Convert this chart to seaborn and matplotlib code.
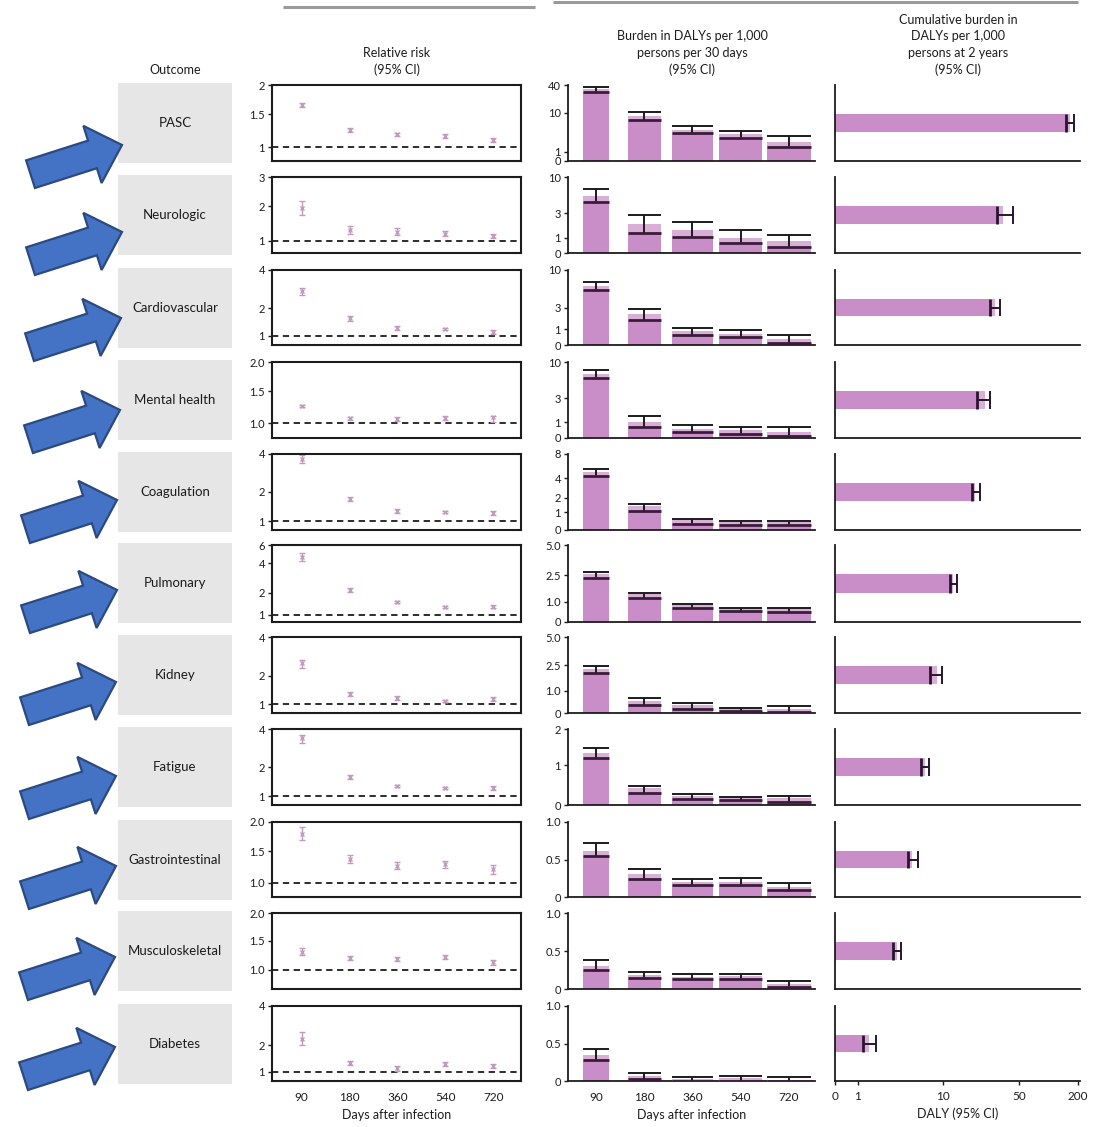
import numpy as np
import pandas as pd
import matplotlib
matplotlib.use("Agg")
import matplotlib.pyplot as plt
import seaborn as sns
from matplotlib.patches import Rectangle, FancyArrow

# ---------------------------------------------------------------- data
outcomes = ["PASC", "Neurologic", "Cardiovascular", "Mental health", "Coagulation",
            "Pulmonary", "Kidney", "Fatigue", "Gastrointestinal", "Musculoskeletal",
            "Diabetes"]
days = ["90", "180", "360", "540", "720"]

# relative risk (95% CI) per period
rr_est = [[1.64, 1.23, 1.17, 1.145, 1.09],
          [1.92, 1.24, 1.20, 1.15, 1.10],
          [2.73, 1.56, 1.22, 1.19, 1.10],
          [1.24, 1.065, 1.05, 1.065, 1.08],
          [3.65, 1.69, 1.27, 1.24, 1.21],
          [4.58, 2.14, 1.51, 1.29, 1.29],
          [2.52, 1.28, 1.16, 1.08, 1.13],
          [3.40, 1.57, 1.27, 1.21, 1.21],
          [1.78, 1.36, 1.24, 1.27, 1.19],
          [1.29, 1.18, 1.17, 1.20, 1.12],
          [2.22, 1.26, 1.11, 1.23, 1.17]]
rr_lo = [[1.61, 1.20, 1.145, 1.12, 1.065],
         [1.68, 1.15, 1.12, 1.10, 1.06],
         [2.53, 1.45, 1.17, 1.15, 1.06],
         [1.22, 1.045, 1.02, 1.04, 1.01],
         [3.40, 1.62, 1.22, 1.20, 1.15],
         [4.19, 2.05, 1.45, 1.25, 1.23],
         [2.30, 1.22, 1.11, 1.05, 1.08],
         [3.10, 1.50, 1.23, 1.17, 1.15],
         [1.67, 1.29, 1.19, 1.21, 1.12],
         [1.23, 1.15, 1.14, 1.17, 1.07],
         [2.00, 1.19, 1.03, 1.16, 1.10]]
rr_hi = [[1.67, 1.26, 1.195, 1.17, 1.115],
         [2.15, 1.35, 1.29, 1.21, 1.14],
         [2.88, 1.64, 1.27, 1.23, 1.15],
         [1.26, 1.085, 1.08, 1.09, 1.10],
         [3.93, 1.76, 1.32, 1.28, 1.27],
         [5.01, 2.23, 1.57, 1.33, 1.35],
         [2.66, 1.34, 1.21, 1.11, 1.18],
         [3.58, 1.64, 1.31, 1.25, 1.27],
         [1.90, 1.43, 1.30, 1.33, 1.26],
         [1.36, 1.21, 1.20, 1.23, 1.15],
         [2.52, 1.33, 1.18, 1.30, 1.24]]

# burden in DALYs per 1,000 persons per 30 days (95% CI)
burden_est = [[33, 8.3, 3.7, 2.8, 1.8],
              [5.4, 1.9, 1.44, 1.0, 0.8],
              [6.0, 2.2, 0.87, 0.73, 0.36],
              [6.6, 1.0, 0.56, 0.50, 0.39],
              [4.86, 1.34, 0.56, 0.46, 0.44],
              [2.55, 1.28, 0.82, 0.63, 0.62],
              [2.15, 0.53, 0.35, 0.17, 0.17],
              [1.33, 0.42, 0.23, 0.18, 0.17],
              [0.62, 0.31, 0.20, 0.20, 0.14],
              [0.30, 0.19, 0.16, 0.17, 0.06],
              [0.35, 0.07, 0.03, 0.04, 0.02]]
burden_lo = [[28, 6.5, 3.1, 2.3, 1.3],
             [4.4, 1.24, 1.06, 0.65, 0.42],
             [5.3, 1.65, 0.62, 0.52, 0.10],
             [5.8, 0.70, 0.36, 0.25, 0.12],
             [4.3, 1.05, 0.37, 0.28, 0.28],
             [2.26, 1.12, 0.68, 0.52, 0.48],
             [1.87, 0.35, 0.20, 0.10, 0.06],
             [1.19, 0.29, 0.15, 0.12, 0.08],
             [0.55, 0.245, 0.16, 0.16, 0.10],
             [0.25, 0.15, 0.13, 0.13, 0.02],
             [0.28, 0.03, 0.00, 0.00, 0.00]]
burden_hi = [[37, 10.3, 4.6, 3.4, 2.5],
             [6.7, 2.74, 2.0, 1.4, 1.15],
             [6.9, 2.8, 1.07, 0.94, 0.62],
             [7.6, 1.33, 0.81, 0.70, 0.70],
             [5.2, 1.5, 0.65, 0.50, 0.52],
             [2.71, 1.36, 0.87, 0.68, 0.68],
             [2.41, 0.68, 0.43, 0.22, 0.29],
             [1.46, 0.48, 0.28, 0.21, 0.23],
             [0.72, 0.375, 0.245, 0.25, 0.19],
             [0.38, 0.23, 0.20, 0.20, 0.11],
             [0.43, 0.11, 0.06, 0.07, 0.06]]

# cumulative burden in DALYs per 1,000 persons at 2 years (95% CI)
cum_est = [166, 35.6, 30, 24.3, 19.7, 12.4, 8.5, 6.15, 4.3, 2.9, 1.36]
cum_lo = [151, 31.4, 27, 20.5, 18.5, 11.6, 7.0, 5.5, 3.9, 2.6, 1.15]
cum_hi = [182, 44, 33.4, 27, 21.9, 13.4, 9.7, 6.85, 5.1, 3.2, 1.64]

# axis ticks
rr_ticks = [[1, 1.5, 2], [1, 2, 3], [1, 2, 4], [1, 1.5, 2], [1, 2, 4], [1, 2, 4, 6],
            [1, 2, 4], [1, 2, 4], [1, 1.5, 2], [1, 1.5, 2], [1, 2, 4]]
rr_ticklabels = [["1", "1.5", "2"], ["1", "2", "3"], ["1", "2", "4"], ["1.0", "1.5", "2.0"],
                 ["1", "2", "4"], ["1", "2", "4", "6"], ["1", "2", "4"], ["1", "2", "4"],
                 ["1.0", "1.5", "2.0"], ["1.0", "1.5", "2.0"], ["1", "2", "4"]]
burden_ticks = [[0, 1, 10, 40], [0, 1, 3, 10], [0, 1, 3, 10], [0, 1, 3, 10], [0, 1, 2, 4, 8],
                [0, 1, 2.5, 5], [0, 1, 2.5, 5], [0, 1, 2], [0, 0.5, 1], [0, 0.5, 1], [0, 0.5, 1]]
burden_ticklabels = [["0", "1", "10", "40"], ["0", "1", "3", "10"], ["0", "1", "3", "10"],
                     ["0", "1", "3", "10"], ["0", "1", "2", "4", "8"], ["0", "1.0", "2.5", "5.0"],
                     ["0", "1.0", "2.5", "5.0"], ["0", "1", "2"], ["0", "0.5", "1.0"],
                     ["0", "0.5", "1.0"], ["0", "0.5", "1.0"]]
cum_ticks = [0, 1, 10, 50, 200]
cum_ticklabels = ["0", "1", "10", "50", "200"]

# ---------------------------------------------------------------- axis geometry
# lower limit of each relative-risk panel and where each tick sits (fraction of height)
rr_floor = [0.84, 0.79, 0.80, 0.83, 0.81, 0.80, 0.80, 0.80, 0.84, 0.77, 0.80]
rr_pos = [[0.184, 0.618, 1], [0.158, 0.618, 1], [0.12, 0.493, 1], [0.197, 0.618, 1],
          [0.118, 0.5, 1], [0.091, 0.377, 0.766, 1], [0.118, 0.487, 1], [0.118, 0.5, 1],
          [0.187, 0.613, 1], [0.25, 0.632, 1], [0.12, 0.48, 1]]
burden_pos = [[0, 0.122, 0.635, 1], [0, 0.2, 0.52, 1], [0, 0.208, 0.494, 1], [0, 0.21, 0.526, 1],
              [0, 0.231, 0.423, 0.679, 1], [0, 0.266, 0.608, 1], [0, 0.295, 0.628, 1],
              [0, 0.526, 1], [0, 0.5, 1], [0, 0.5, 1], [0, 0.5, 1]]
burden_mode = ["sym"] * 7 + ["lin"] * 4
cum_pos = [0, 0.0927, 0.441, 0.751, 0.992]

W, H = 1094, 1127
row_top = [85, 177, 270, 362, 454, 545, 637, 729, 822, 913, 1006]
row_bot = [161, 253, 345, 438, 530, 622, 713, 805, 897, 989, 1081]
bar_widths = [0.52, 0.69, 0.85, 0.9, 0.9]

BAR = "#c98dc8"
RRC = "#c29abd"
INK = "#1c1c1c"


def _interp(x, xp, fp):
    x = np.asarray(x, dtype=float)
    y = np.interp(x, xp, fp)
    s0 = (fp[1] - fp[0]) / (xp[1] - xp[0])
    s1 = (fp[-1] - fp[-2]) / (xp[-1] - xp[-2])
    y = np.where(x < xp[0], fp[0] + (x - xp[0]) * s0, y)
    y = np.where(x > xp[-1], fp[-1] + (x - xp[-1]) * s1, y)
    return y


def knot_scale(vals, pos, mode):
    """Piecewise scale that puts each knot value at the given axis fraction."""
    vals = np.asarray(vals, dtype=float)
    pos = np.asarray(pos, dtype=float)
    t1 = vals[vals > 0][0]

    def g(v):
        v = np.asarray(v, dtype=float)
        if mode == "lin":
            return v
        if mode == "log":
            return np.log10(np.clip(v, 1e-9, None))
        return np.where(v < t1, v / t1, 1 + np.log10(np.clip(v, t1, None) / t1))

    def ginv(u):
        u = np.asarray(u, dtype=float)
        if mode == "lin":
            return u
        if mode == "log":
            return 10 ** np.clip(u, -9, 9)
        return np.where(u < 1, u * t1, t1 * 10 ** (np.clip(u, 1, 12) - 1))

    G = g(vals)
    fwd = lambda v: _interp(g(v), G, pos)
    inv = lambda f: ginv(_interp(f, pos, G))
    return fwd, inv


sns.set_theme(style="white")
plt.rcParams["font.family"] = ["Lato", "DejaVu Sans"]
plt.rcParams["text.color"] = INK
plt.rcParams["axes.labelcolor"] = INK
plt.rcParams["xtick.color"] = INK
plt.rcParams["ytick.color"] = INK

fig = plt.figure(figsize=(W / 100, H / 100), dpi=100)


def add_ax(x0, x1, top, bot):
    return fig.add_axes([x0 / W, 1 - bot / H, (x1 - x0) / W, (bot - top) / H])


xs = np.arange(len(days))
last = len(outcomes) - 1

for i, name in enumerate(outcomes):
    top, bot = row_top[i], row_bot[i]

    # ---- relative risk panel
    ax = add_ax(272, 521, top, bot)
    df = pd.DataFrame({"day": days, "rr": rr_est[i]})
    sns.pointplot(data=df, x="day", y="rr", order=days, color=RRC, linestyle="none",
                  marker="x", markersize=3, markeredgewidth=1.0, errorbar=None, ax=ax)
    est = np.array(rr_est[i])
    ax.errorbar(xs, est, yerr=[est - np.array(rr_lo[i]), np.array(rr_hi[i]) - est],
                fmt="none", ecolor=RRC, elinewidth=1.0, capsize=2.2, capthick=1.0)
    ax.axhline(1, color=INK, lw=1.3, ls=(0, (3.5, 2.5)), zorder=1)
    fwd, inv = knot_scale([rr_floor[i]] + rr_ticks[i], [0] + rr_pos[i], "log")
    ax.set_yscale("function", functions=(fwd, inv))
    ax.set_ylim(rr_floor[i], float(inv(1.0)))
    ax.set_yticks(rr_ticks[i])
    ax.set_yticklabels(rr_ticklabels[i])
    ax.minorticks_off()
    ax.set_xlim(-0.62, 4.58)
    ax.set_xlabel("")
    ax.set_ylabel("")
    for s in ax.spines.values():
        s.set_visible(True)
        s.set_linewidth(1.5)
        s.set_color(INK)
    ax.tick_params(axis="y", length=3, width=1, labelsize=8, pad=2, left=True)
    ax.tick_params(axis="x", length=0, labelsize=8.5, pad=8)
    if i != last:
        ax.set_xticklabels([])
    else:
        ax.set_xlabel("Days after infection", fontsize=9, labelpad=4)

    # ---- burden per 30 days panel
    ax = add_ax(568, 815, top, bot)
    dfb = pd.DataFrame({"day": days, "burden": burden_est[i]})
    sns.barplot(data=dfb, x="day", y="burden", order=days, color=BAR, saturation=1,
                errorbar=None, edgecolor="none", ax=ax)
    for p, w, cx in zip(ax.patches, bar_widths, xs):
        p.set_x(cx - w / 2)
        p.set_width(w)
    lo = np.array(burden_lo[i])
    hi = np.array(burden_hi[i])
    bw = np.array(bar_widths)
    be = np.array(burden_est[i])
    # lighter band between the lower bound and the estimate
    ax.bar(xs, np.clip(be - lo, 0, None), bottom=lo, width=bw, color="white", alpha=0.3,
           linewidth=0, zorder=3)
    ax.vlines(xs, lo, hi, color=INK, lw=1.4, zorder=4)
    ax.hlines(hi, xs - bw / 2, xs + bw / 2, color=INK, lw=1.4, zorder=4)
    ax.hlines(lo, xs - bw / 2, xs + bw / 2, color="#3a1c3a", lw=2.0, zorder=4)
    fwd, inv = knot_scale(burden_ticks[i], burden_pos[i], burden_mode[i])
    ax.set_yscale("function", functions=(fwd, inv))
    ax.set_ylim(0, burden_ticks[i][-1])
    ax.set_yticks(burden_ticks[i])
    ax.set_yticklabels(burden_ticklabels[i])
    ax.minorticks_off()
    ax.set_xlim(-0.58, 4.54)
    ax.set_xlabel("")
    ax.set_ylabel("")
    sns.despine(ax=ax)
    for s in ("left", "bottom"):
        ax.spines[s].set_linewidth(1.3)
        ax.spines[s].set_color(INK)
    ax.tick_params(axis="y", length=3, width=1, labelsize=8, pad=2, left=True)
    ax.tick_params(axis="x", length=0, labelsize=8.5, pad=8)
    if i != last:
        ax.set_xticklabels([])
    else:
        ax.set_xlabel("Days after infection", fontsize=9, labelpad=4)

    # ---- cumulative burden at 2 years panel
    ax = add_ax(835, 1080, top, bot)
    dfc = pd.DataFrame({"outcome": [name], "daly": [cum_est[i]]})
    sns.barplot(data=dfc, x="daly", y="outcome", orient="h", color=BAR, saturation=1,
                errorbar=None, width=0.9, edgecolor="none", ax=ax)
    fwd, inv = knot_scale(cum_ticks, cum_pos, "sym")
    ax.set_xscale("function", functions=(fwd, inv))
    ax.set_xlim(0, float(inv(1.0)))
    ax.set_ylim(1.9, -1.9)
    c_lo, c_hi, c_est = cum_lo[i], cum_hi[i], cum_est[i]
    ax.barh([0], [c_est - c_lo], left=[c_lo], height=0.9, color="white", alpha=0.3,
            linewidth=0, zorder=3)
    ax.hlines(0, c_lo, c_hi, color="#2a1530", lw=1.4, zorder=4)
    ax.vlines(c_lo, -0.45, 0.45, color="#2a1530", lw=2.0, zorder=4)
    ax.vlines(c_hi, -0.45, 0.45, color="#2a1530", lw=1.4, zorder=4)
    ax.set_xticks(cum_ticks)
    ax.set_xticklabels(cum_ticklabels)
    ax.minorticks_off()
    ax.set_yticks([])
    ax.set_xlabel("")
    ax.set_ylabel("")
    sns.despine(ax=ax)
    for s in ("left", "bottom"):
        ax.spines[s].set_linewidth(1.3)
        ax.spines[s].set_color(INK)
    if i != last:
        ax.tick_params(axis="x", length=0, labelbottom=False)
    else:
        ax.tick_params(axis="x", length=3, width=1, labelsize=8.5, pad=4, bottom=True)
        ax.set_xlabel("DALY (95% CI)", fontsize=9, labelpad=4)

# ---------------------------------------------------------------- overlay: headers, labels, arrows
ov = fig.add_axes([0, 0, 1, 1], zorder=10)
ov.set_xlim(0, W)
ov.set_ylim(H, 0)
ov.set_axis_off()

ov.plot([283, 535], [7, 7], color="#9a9a9a", lw=2.2, solid_capstyle="butt")
ov.plot([553, 1078], [2, 2], color="#9a9a9a", lw=2.2, solid_capstyle="butt")

hdr = dict(ha="center", va="bottom", fontsize=9, linespacing=1.45)
ov.text(175, 76, "Outcome", **hdr)
ov.text(397, 76, "Relative risk\n(95% CI)", **hdr)
ov.text(692, 76, "Burden in DALYs per 1,000\npersons per 30 days\n(95% CI)", **hdr)
ov.text(958, 76, "Cumulative burden in\nDALYs per 1,000\npersons at 2 years\n(95% CI)", **hdr)

for i, name in enumerate(outcomes):
    y0 = row_top[i] - 2
    ov.add_patch(Rectangle((118, y0), 114, 80, facecolor="#e6e6e6", edgecolor="none", zorder=1))
    ov.text(175, y0 + 40, name, ha="center", va="center", fontsize=9.5, zorder=2)

# pointer arrows beside each outcome box
tip_x = [122, 122, 121, 120, 117, 117, 116, 116, 116, 115, 115]
tip_y = [145, 232, 318, 410, 500, 590, 682, 776, 866, 957, 1047]
ang = np.deg2rad(17.7)
L = 96
for tx, ty in zip(tip_x, tip_y):
    sx, sy = tx - L * np.cos(ang), ty + L * np.sin(ang)
    ov.add_patch(FancyArrow(sx, sy, tx - sx, ty - sy, width=29, head_width=60,
                            head_length=31, length_includes_head=True,
                            facecolor="#4472c4", edgecolor="#2b4a80", lw=1.6, zorder=5))

fig.savefig("out.png", dpi=100)
